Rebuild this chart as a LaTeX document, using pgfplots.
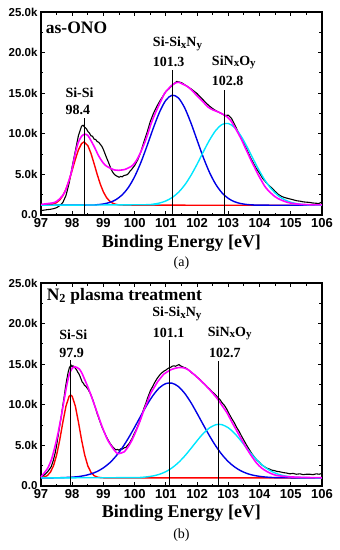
\documentclass[border=0pt]{standalone}
\usepackage{fontspec}
\setmainfont{Liberation Serif}
\setsansfont{Liberation Sans}
\usepackage{pgfplots}
\pgfplotsset{compat=1.18}
\definecolor{cy}{RGB}{0,230,255}
\definecolor{mg}{RGB}{255,0,255}
\definecolor{bl}{RGB}{0,0,230}
\definecolor{rd}{RGB}{255,0,0}
\pgfplotsset{
  xps/.style={
    scale only axis, width=281pt, height=203pt,
    xmin=97, xmax=106, ymin=0, ymax=25,
    xtick={97,98,99,100,101,102,103,104,105,106},
    xticklabels={97,98,99,100,101,102,103,104,105,106},
    ytick={0,5,10,15,20,25},
    yticklabels={0.0,5.0k,10.0k,15.0k,20.0k,25.0k},
    minor x tick num=1, minor y tick num=1,
    tick align=inside, major tick length=4pt, minor tick length=2.5pt,
    axis line style={line width=1.7pt},
    every tick/.style={black, line width=1pt},
    clip=false,
    xticklabel style={font=\fontsize{13}{13}\selectfont\sffamily\bfseries},
    yticklabel style={font=\fontsize{11.5}{11.5}\selectfont\sffamily\bfseries},
  },
  dat/.style={black, line width=1.1pt},
  fit/.style={mg, line width=1.6pt, smooth},
  cmp/.style={line width=1.4pt},
  vl/.style={black, line width=1pt},
}
\newcommand{\lab}{\fontsize{14}{14}\selectfont\bfseries}
\newcommand{\sbs}[1]{\raisebox{-0.3ex}{\fontsize{11}{11}\selectfont #1}}
\begin{document}
\begin{tikzpicture}
\path[use as bounding box] (-41pt,-64pt) rectangle (299pt,486pt);
% ---------------- panel (a)
\begin{axis}[xps, at={(0,271pt)}, anchor=south west]
\addplot[dat] coordinates {
(97.0,0.55)(97.1,0.60)(97.2,0.66)(97.3,0.70)(97.4,0.78)(97.5,0.90)(97.6,1.15)(97.7,1.55)(97.8,2.40)(97.9,3.90)
(98.0,5.95)(98.1,7.90)(98.2,9.80)(98.3,10.95)(98.35,11.05)(98.4,10.80)(98.45,10.65)(98.5,10.30)(98.55,10.10)(98.6,9.75)
(98.65,9.70)(98.7,9.35)(98.75,9.30)(98.8,9.05)(98.85,8.95)(98.9,8.70)(98.95,8.45)(99.0,8.05)(99.05,7.55)(99.1,7.05)
(99.15,6.60)(99.2,6.10)(99.25,5.60)(99.3,5.25)(99.35,5.00)(99.4,4.85)(99.45,4.75)(99.5,4.65)(99.55,4.75)(99.6,4.70)
(99.65,4.85)(99.7,4.90)(99.75,4.95)(99.8,5.10)(99.85,5.40)(99.9,5.60)(100.0,6.10)(100.1,6.80)(100.2,7.80)(100.3,9.05)
(100.4,10.20)(100.5,11.50)(100.6,12.50)(100.7,13.30)(100.8,14.00)(100.9,14.60)(101.0,15.20)(101.1,15.55)(101.2,15.95)(101.3,16.30)
(101.35,16.45)(101.4,16.40)(101.45,16.35)(101.5,16.30)(101.6,16.05)(101.7,15.80)(101.8,15.55)(101.9,15.25)(102.0,14.95)(102.1,14.55)
(102.2,14.15)(102.3,13.75)(102.4,13.40)(102.5,13.10)(102.6,12.85)(102.7,12.65)(102.8,12.45)(102.9,12.25)(103.0,12.30)(103.1,11.90)
(103.2,11.15)(103.3,10.35)(103.4,9.55)(103.5,8.80)(103.6,8.00)(103.7,7.15)(103.8,6.40)(103.9,5.70)(104.0,5.15)(104.1,4.50)
(104.2,4.05)(104.3,3.65)(104.4,3.30)(104.5,2.90)(104.6,2.55)(104.7,2.30)(104.8,2.15)(104.9,2.05)(105.0,1.95)(105.1,1.85)
(105.2,1.75)(105.3,1.70)(105.4,1.62)(105.5,1.58)(105.6,1.55)(105.7,1.48)(105.8,1.45)(105.9,1.42)(106.0,1.60)};
\addplot[cmp, rd] coordinates {
(97.0,1.2)(97.3,1.27)(97.4,1.36)(97.5,1.53)(97.6,1.85)(97.7,2.38)(97.8,3.18)(97.9,4.25)(98.0,5.53)(98.1,6.86)(98.2,8.03)
(98.3,8.80)(98.38,9.0)(98.5,8.55)(98.6,7.60)(98.7,6.33)(98.8,5.00)(98.9,3.79)(99.0,2.83)(99.1,2.14)(99.2,1.70)
(99.3,1.45)(99.4,1.31)(99.5,1.25)(99.7,1.21)(106.0,1.2)};
\addplot[cmp, bl, smooth] coordinates {
(97.0,1.2)(98.6,1.23)(98.8,1.27)(99.0,1.36)(99.2,1.55)(99.4,1.89)(99.6,2.48)(99.8,3.40)(100.0,4.73)(100.2,6.48)
(100.4,8.55)(100.6,10.73)(100.8,12.70)(101.0,14.14)(101.2,14.75)(101.4,14.42)(101.6,13.21)(101.8,11.36)(102.0,9.21)(102.2,7.08)
(102.4,5.22)(102.6,3.76)(102.8,2.72)(103.0,2.04)(103.2,1.63)(103.4,1.41)(103.6,1.29)(103.8,1.24)(104.0,1.21)(106.0,1.2)};
\addplot[cmp, cy, smooth] coordinates {
(97.0,1.2)(100.4,1.27)(100.6,1.34)(100.8,1.48)(101.0,1.73)(101.2,2.15)(101.4,2.78)(101.6,3.68)(101.8,4.86)(102.0,6.26)
(102.2,7.79)(102.4,9.24)(102.6,10.43)(102.8,11.15)(103.0,11.27)(103.2,10.78)(103.4,9.76)(103.6,8.39)(103.8,6.87)(104.0,5.40)
(104.2,4.12)(104.4,3.11)(104.6,2.37)(104.8,1.88)(105.0,1.57)(105.2,1.39)(105.4,1.29)(105.6,1.24)(106.0,1.21)};
\addplot[fit] coordinates {
(97.0,1.30)(97.2,1.40)(97.44,1.55)(97.6,2.0)(97.76,2.8)(97.9,4.3)(97.97,5.2)(98.1,7.6)(98.19,8.9)(98.3,9.7)
(98.4,9.95)(98.5,9.8)(98.61,9.1)(98.72,8.3)(98.83,7.4)(98.93,6.75)(99.04,6.2)(99.15,5.9)(99.25,5.7)(99.35,5.55)
(99.47,5.5)(99.6,5.55)(99.68,5.6)(99.8,5.8)(99.9,6.0)(100.0,6.4)(100.1,7.0)(100.2,7.8)(100.32,8.9)(100.43,10.1)
(100.53,11.3)(100.64,12.35)(100.75,13.3)(100.86,14.2)(100.96,15.0)(101.07,15.5)(101.17,15.9)(101.28,16.2)(101.4,16.35)(101.55,16.1)
(101.71,15.77)(101.87,15.2)(102.03,14.55)(102.2,13.9)(102.35,13.3)(102.5,12.95)(102.67,12.7)(102.88,12.3)(103.0,11.95)(103.1,11.5)
(103.2,10.85)(103.31,10.1)(103.42,9.3)(103.52,8.46)(103.63,7.55)(103.74,6.63)(103.85,5.8)(103.95,5.0)(104.06,4.25)(104.16,3.58)
(104.27,3.05)(104.38,2.64)(104.48,2.3)(104.59,2.03)(104.75,1.75)(104.91,1.54)(105.07,1.42)(105.23,1.34)(105.45,1.29)(105.66,1.26)(106.0,1.24)};
\addplot[vl] coordinates {(98.38,0) (98.38,12.0)};
\addplot[vl] coordinates {(101.22,0) (101.22,17.9)};
\addplot[vl] coordinates {(102.88,0) (102.88,15.4)};
\node[anchor=west, inner sep=0pt, font=\lab] at (axis cs:97.78,15.0) {Si-Si};
\node[anchor=west, inner sep=0pt, font=\lab] at (axis cs:97.78,12.9) {98.4};
\node[anchor=west, inner sep=0pt, font=\lab] at (axis cs:100.58,21.1) {Si-Si\sbs{x}N\sbs{y}};
\node[anchor=west, inner sep=0pt, font=\lab] at (axis cs:100.58,18.8) {101.3};
\node[anchor=west, inner sep=0pt, font=\lab] at (axis cs:102.47,18.8) {SiN\sbs{x}O\sbs{y}};
\node[anchor=west, inner sep=0pt, font=\lab] at (axis cs:102.47,16.5) {102.8};
\node[anchor=west, inner sep=0pt, font=\fontsize{17.5}{17.5}\selectfont\bfseries] at (axis cs:97.15,23.1) {as-ONO};
\node[font=\fontsize{18}{18}\selectfont\bfseries] at (rel axis cs:0.5,0) [yshift=-28pt] {Binding Energy [eV]};
\node[font=\fontsize{14}{14}\selectfont] at (rel axis cs:0.5,0) [yshift=-48pt] {(a)};
\end{axis}
% ---------------- panel (b)
\begin{axis}[xps, at={(0,0)}, anchor=south west]
\addplot[dat] coordinates {
(97.0,1.10)(97.06,1.20)(97.13,1.45)(97.2,1.70)(97.27,2.05)(97.33,2.40)(97.39,3.10)(97.45,4.00)(97.5,5.00)(97.54,6.00)
(97.6,7.40)(97.65,8.60)(97.7,9.95)(97.75,11.20)(97.79,12.30)(97.83,13.20)(97.87,14.00)(97.91,14.60)(97.94,14.75)(97.96,14.90)
(97.99,14.70)(98.02,14.80)(98.06,14.65)(98.1,14.50)(98.14,14.30)(98.18,14.00)(98.21,13.85)(98.25,13.50)(98.29,13.10)(98.32,12.80)
(98.36,12.65)(98.39,12.40)(98.43,12.30)(98.47,12.10)(98.51,11.90)(98.55,11.60)(98.59,11.30)(98.63,10.90)(98.67,10.50)(98.71,10.00)
(98.75,9.55)(98.8,8.90)(98.86,8.25)(98.92,7.60)(98.97,7.10)(99.03,6.60)(99.08,6.20)(99.13,5.80)(99.19,5.40)(99.24,5.10)
(99.3,4.80)(99.35,4.60)(99.4,4.45)(99.45,4.50)(99.5,4.40)(99.56,4.60)(99.61,4.55)(99.66,4.70)(99.72,4.75)(99.77,5.00)
(99.83,5.25)(99.88,5.60)(99.93,5.95)(99.98,6.40)(100.04,6.85)(100.09,7.30)(100.15,7.85)(100.2,8.40)(100.25,9.00)(100.3,9.60)
(100.36,10.20)(100.41,10.80)(100.46,11.30)(100.51,11.80)(100.57,12.20)(100.62,12.60)(100.68,13.00)(100.73,13.30)(100.78,13.55)(100.83,13.80)
(100.89,14.00)(100.94,14.15)(100.99,14.25)(101.04,14.40)(101.1,14.55)(101.15,14.60)(101.2,14.75)(101.26,14.80)(101.31,14.75)(101.36,14.85)
(101.42,14.95)(101.47,14.80)(101.52,14.70)(101.58,14.60)(101.63,14.55)(101.68,14.40)(101.76,14.20)(101.84,13.90)(101.92,13.70)(102.0,13.40)
(102.08,13.15)(102.16,12.80)(102.24,12.55)(102.32,12.20)(102.4,11.95)(102.48,11.60)(102.56,11.35)(102.64,11.00)(102.72,10.70)(102.8,10.25)
(102.88,9.90)(102.96,9.40)(103.03,8.85)(103.11,8.30)(103.19,7.80)(103.27,7.20)(103.35,6.70)(103.43,6.10)(103.51,5.55)(103.59,5.00)
(103.67,4.50)(103.75,4.00)(103.83,3.60)(103.91,3.20)(103.99,2.95)(104.07,2.60)(104.15,2.40)(104.23,2.20)(104.31,2.10)(104.39,1.95)
(104.47,1.90)(104.55,1.80)(104.65,1.75)(104.76,1.65)(104.86,1.60)(104.97,1.50)(105.07,1.55)(105.18,1.45)(105.29,1.50)(105.4,1.40)
(105.5,1.45)(105.61,1.45)(105.71,1.40)(105.82,1.50)(105.91,1.45)(106.0,1.55)};
\addplot[cmp, rd] coordinates {
(97.0,1.03)(97.1,1.10)(97.2,1.28)(97.3,1.69)(97.4,2.48)(97.5,3.81)(97.6,5.67)(97.7,7.85)(97.8,9.84)(97.9,11.04)
(97.95,11.2)(98.0,11.04)(98.1,9.84)(98.2,7.85)(98.3,5.67)(98.4,3.81)(98.5,2.48)(98.6,1.69)(98.7,1.28)(98.8,1.10)
(98.9,1.03)(99.0,1.01)(106.0,1.0)};
\addplot[cmp, bl, smooth] coordinates {
(97.0,1.0)(97.4,1.01)(97.6,1.02)(97.8,1.05)(98.0,1.09)(98.2,1.16)(98.4,1.29)(98.6,1.49)(98.8,1.79)(99.0,2.24)
(99.2,2.85)(99.4,3.67)(99.6,4.69)(99.8,5.90)(100.0,7.25)(100.2,8.66)(100.4,10.03)(100.6,11.22)(100.8,12.12)(101.0,12.62)
(101.2,12.66)(101.4,12.25)(101.6,11.43)(101.8,10.29)(102.0,8.94)(102.2,7.53)(102.4,6.16)(102.6,4.91)(102.8,3.85)(103.0,3.00)
(103.2,2.35)(103.4,1.87)(103.6,1.54)(103.8,1.32)(104.0,1.19)(104.2,1.10)(104.4,1.05)(104.6,1.03)(105.0,1.01)(106.0,1.0)};
\addplot[cmp, cy, smooth] coordinates {
(97.0,1.0)(100.0,1.03)(100.2,1.06)(100.4,1.13)(100.6,1.25)(100.8,1.45)(101.0,1.77)(101.2,2.24)(101.4,2.88)(101.6,3.68)
(101.8,4.61)(102.0,5.58)(102.2,6.48)(102.4,7.17)(102.6,7.55)(102.7,7.6)(102.8,7.55)(103.0,7.17)(103.2,6.48)(103.4,5.58)
(103.6,4.61)(103.8,3.68)(104.0,2.88)(104.2,2.24)(104.4,1.77)(104.6,1.45)(104.8,1.25)(105.0,1.13)(105.2,1.06)(105.4,1.03)(106.0,1.0)};
\addplot[fit] coordinates {
(97.0,1.1)(97.06,1.4)(97.2,2.1)(97.33,3.2)(97.45,4.9)(97.54,6.4)(97.65,8.6)(97.75,10.8)(97.83,12.5)(97.91,13.8)
(98.0,14.5)(98.07,14.7)(98.15,14.6)(98.23,14.4)(98.31,13.9)(98.39,13.2)(98.5,12.2)(98.6,11.2)(98.71,10.0)(98.82,8.8)
(98.92,7.7)(99.03,6.6)(99.13,5.7)(99.24,5.0)(99.35,4.4)(99.45,4.0)(99.56,4.05)(99.66,4.2)(99.77,4.7)(99.88,5.4)
(99.98,6.2)(100.09,7.2)(100.2,8.3)(100.3,9.4)(100.41,10.4)(100.51,11.4)(100.62,12.1)(100.73,12.8)(100.83,13.3)(100.94,13.8)
(101.04,14.05)(101.15,14.3)(101.3,14.5)(101.47,14.6)(101.68,14.4)(102.0,13.4)(102.32,12.2)(102.64,10.8)(102.8,9.9)(102.96,9.0)
(103.11,7.9)(103.27,6.8)(103.43,5.7)(103.59,4.6)(103.75,3.65)(103.91,2.8)(104.07,2.2)(104.23,1.8)(104.39,1.5)(104.55,1.3)
(104.76,1.2)(105.0,1.12)(105.5,1.05)(106.0,1.02)};
\addplot[vl] coordinates {(97.95,0) (97.95,15.5)};
\addplot[vl] coordinates {(101.13,0) (101.13,18.0)};
\addplot[vl] coordinates {(102.67,0) (102.67,15.4)};
\node[anchor=west, inner sep=0pt, font=\lab] at (axis cs:97.58,18.6) {Si-Si};
\node[anchor=west, inner sep=0pt, font=\lab] at (axis cs:97.58,16.4) {97.9};
\node[anchor=west, inner sep=0pt, font=\lab] at (axis cs:100.56,21.2) {Si-Si\sbs{x}N\sbs{y}};
\node[anchor=west, inner sep=0pt, font=\lab] at (axis cs:100.58,18.8) {101.1};
\node[anchor=west, inner sep=0pt, font=\lab] at (axis cs:102.34,18.8) {SiN\sbs{x}O\sbs{y}};
\node[anchor=west, inner sep=0pt, font=\lab] at (axis cs:102.38,16.4) {102.7};
\node[anchor=west, inner sep=0pt, font=\fontsize{17.5}{17.5}\selectfont\bfseries] at (axis cs:97.18,23.4) {N\textsubscript{2} plasma treatment};
\node[font=\fontsize{18}{18}\selectfont\bfseries] at (rel axis cs:0.5,0) [yshift=-27pt] {Binding Energy [eV]};
\node[font=\fontsize{14}{14}\selectfont] at (rel axis cs:0.5,0) [yshift=-49pt] {(b)};
\end{axis}
\end{tikzpicture}
\end{document}
